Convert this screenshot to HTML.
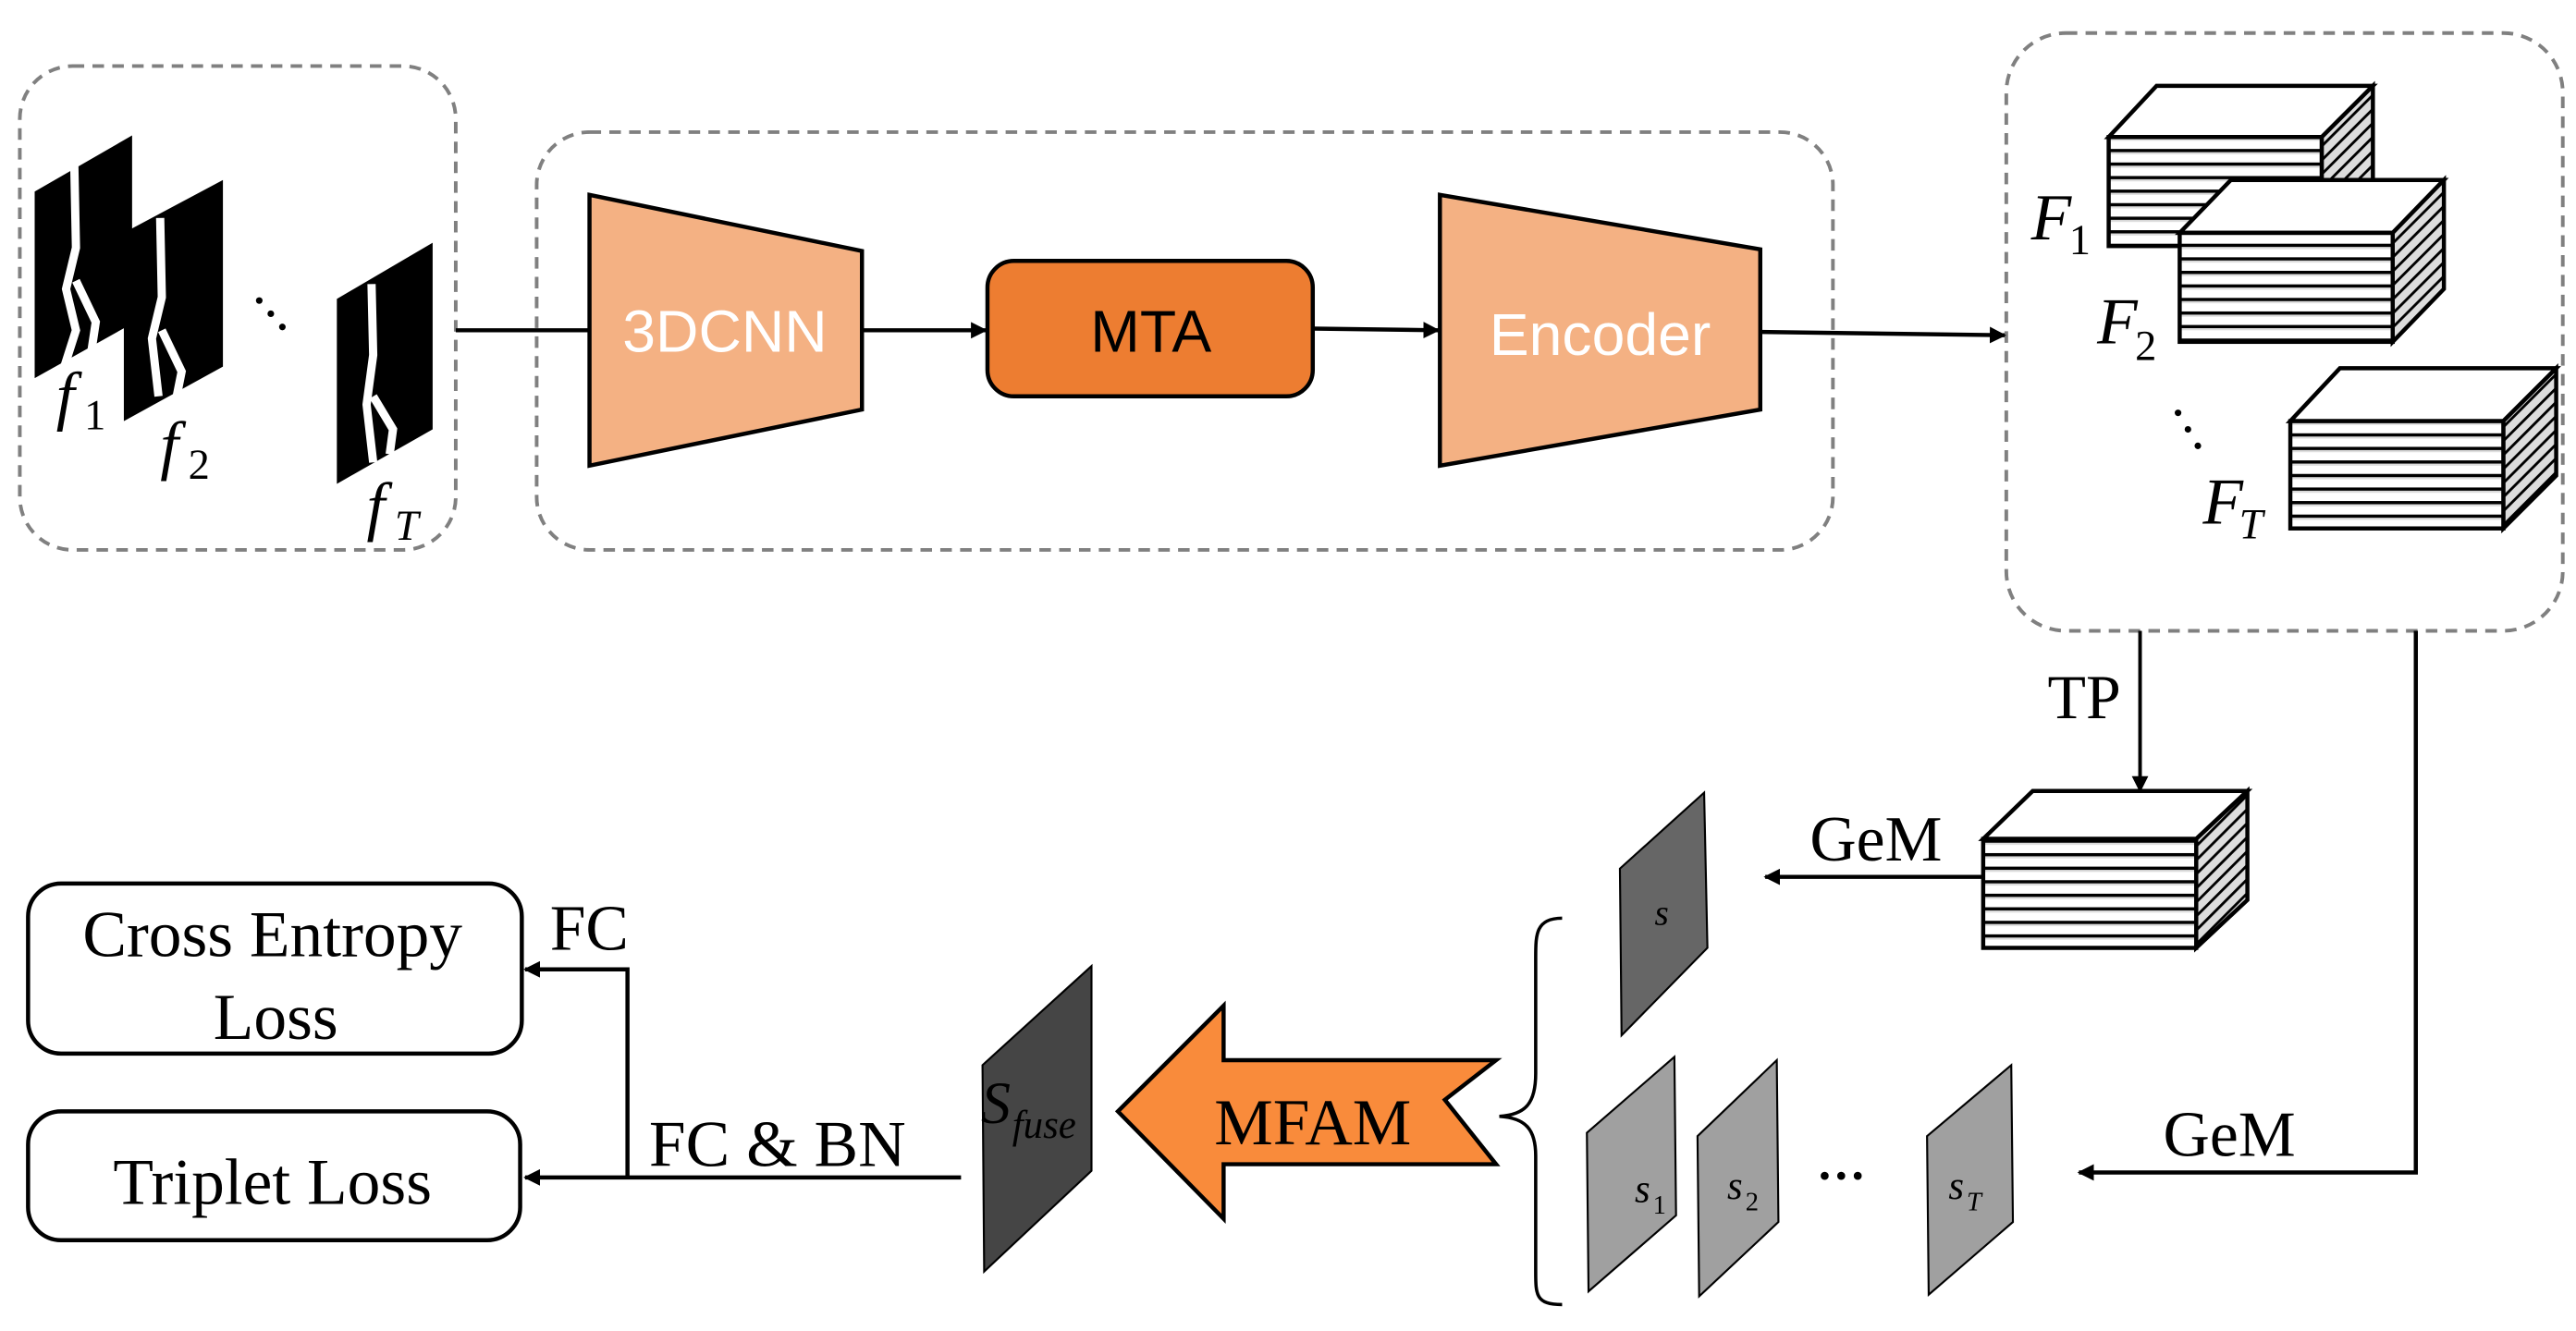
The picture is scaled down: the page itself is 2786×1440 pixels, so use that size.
<!DOCTYPE html>
<html><head><meta charset="utf-8"><style>
html,body{margin:0;padding:0;background:#fff;}
svg{display:block;}
.serif{font-family:"Liberation Serif",serif;}
.sans{font-family:"Liberation Sans",sans-serif;}
</style></head><body>
<svg width="2786" height="1440" viewBox="0 0 1560 806" preserveAspectRatio="none" xmlns="http://www.w3.org/2000/svg">
<defs>
<pattern id="hs" patternUnits="userSpaceOnUse" width="10" height="8.2">
<rect width="10" height="8.2" fill="#fff"/><rect y="0" width="10" height="2" fill="#000"/><rect y="2" width="10" height="1.2" fill="#ddd"/>
</pattern>
<pattern id="ds" patternUnits="userSpaceOnUse" width="6" height="6" patternTransform="rotate(-45)">
<rect width="6" height="6" fill="#ddd"/><rect width="6" height="1.6" fill="#000"/>
</pattern>
<marker id="ar" markerWidth="10" markerHeight="10" refX="9" refY="5" orient="auto" markerUnits="userSpaceOnUse">
<path d="M0,0 L10,5 L0,10 z" fill="#000"/>
</marker>
</defs>

<rect x="12" y="40" width="264" height="293" rx="32" fill="none" stroke="#808080" stroke-width="2.2" stroke-dasharray="7,5"/>
<rect x="325" y="80" width="785" height="253" rx="32" fill="none" stroke="#808080" stroke-width="2.2" stroke-dasharray="7,5"/>
<rect x="1215" y="20" width="337" height="362" rx="36" fill="none" stroke="#808080" stroke-width="2.2" stroke-dasharray="7,5"/>

<polygon points="21,116 80,82 80,196 21,229" fill="#000"/>
<path d="M45,100 L46,150 L40,175 L46,200 L38,225 M46,170 L58,195 L55,215" stroke="#fff" stroke-width="5" fill="none"/>
<polygon points="75,141 135,109 135,222 75,255" fill="#000"/>
<path d="M97,132 L98,180 L92,205 L96,240 M98,200 L110,225 L106,245" stroke="#fff" stroke-width="5" fill="none"/>
<polygon points="204,181 262,147 262,260 204,293" fill="#000"/>
<path d="M225,172 L226,215 L222,245 L226,280 M226,240 L238,260 L236,275" stroke="#fff" stroke-width="5" fill="none"/>
<circle cx="157" cy="182" r="2" fill="#000"/><circle cx="164" cy="190" r="2" fill="#000"/><circle cx="171" cy="198" r="2" fill="#000"/>
<text x="34" y="253" class="serif" font-size="40" font-style="italic">f</text><text x="51" y="260" class="serif" font-size="26">1</text>
<text x="97" y="283" class="serif" font-size="40" font-style="italic">f</text><text x="114" y="290" class="serif" font-size="26">2</text>
<text x="222" y="320" class="serif" font-size="40" font-style="italic">f</text><text x="239" y="327" class="serif" font-size="26" font-style="italic">T</text>

<polygon points="357,118 522,152 522,248 357,282" fill="#f4b183" stroke="#000" stroke-width="2.5"/>
<text x="439" y="213" class="sans" font-size="36" fill="#fff" text-anchor="middle">3DCNN</text>
<rect x="598" y="158" width="197" height="82" rx="16" fill="#ed7d31" stroke="#000" stroke-width="2.5"/>
<text x="697" y="213" class="sans" font-size="36" fill="#000" text-anchor="middle">MTA</text>
<polygon points="872,118 1066,151 1066,248 872,282" fill="#f4b183" stroke="#000" stroke-width="2.5"/>
<text x="969" y="215" class="sans" font-size="36" fill="#fff" text-anchor="middle">Encoder</text>

<line x1="276" y1="200" x2="357" y2="200" stroke="#000" stroke-width="2.5"/>
<line x1="522" y1="200" x2="597" y2="200" stroke="#000" stroke-width="2.5" marker-end="url(#ar)"/>
<line x1="795" y1="199" x2="871" y2="200" stroke="#000" stroke-width="2.5" marker-end="url(#ar)"/>
<line x1="1066" y1="201" x2="1214" y2="203" stroke="#000" stroke-width="2.5" marker-end="url(#ar)"/>

<g stroke="#000" stroke-width="2.5" stroke-linejoin="miter">
<polygon points="1277,83 1306,52 1437,52 1406,83" fill="#fff"/>
<polygon points="1406,83 1437,52 1437,118 1406,149" fill="url(#ds)"/>
<rect x="1277" y="83" width="129" height="66" fill="url(#hs)"/>
<polygon points="1320,141 1351,109 1480,109 1449,141" fill="#fff"/>
<polygon points="1449,141 1480,109 1480,175 1449,207" fill="url(#ds)"/>
<rect x="1320" y="141" width="129" height="66" fill="url(#hs)"/>
<polygon points="1387,255 1417,223 1548,223 1516,255" fill="#fff"/>
<polygon points="1516,255 1548,223 1548,288 1516,320" fill="url(#ds)"/>
<rect x="1387" y="255" width="129" height="65" fill="url(#hs)"/>
<polygon points="1201,508 1231,479 1361,479 1330,508" fill="#fff"/>
<polygon points="1330,508 1361,479 1361,545 1330,574" fill="url(#ds)"/>
<rect x="1201" y="508" width="129" height="66" fill="url(#hs)"/>
</g>
<text x="1230" y="145" class="serif" font-size="40" font-style="italic">F</text><text x="1253" y="154" class="serif" font-size="26">1</text>
<text x="1270" y="208" class="serif" font-size="40" font-style="italic">F</text><text x="1293" y="218" class="serif" font-size="26">2</text>
<text x="1334" y="317" class="serif" font-size="40" font-style="italic">F</text><text x="1356" y="326" class="serif" font-size="26" font-style="italic">T</text>
<circle cx="1319" cy="250" r="2" fill="#000"/><circle cx="1325" cy="260" r="2" fill="#000"/><circle cx="1331" cy="270" r="2" fill="#000"/>

<line x1="1296" y1="382" x2="1296" y2="479" stroke="#000" stroke-width="2.2" marker-end="url(#ar)"/>
<text x="1240" y="435" class="serif" font-size="38">TP</text>
<polyline points="1463,382 1463,710 1259,710" fill="none" stroke="#000" stroke-width="2.5" marker-end="url(#ar)"/>
<text x="1310" y="700" class="serif" font-size="39">GeM</text>
<line x1="1201" y1="531" x2="1069" y2="531" stroke="#000" stroke-width="2.5" marker-end="url(#ar)"/>
<text x="1096" y="521" class="serif" font-size="39">GeM</text>

<g stroke="#000" stroke-width="1.2">
<polygon points="981,526 1032,480 1034,574 982,627" fill="#666"/>
<polygon points="961,686 1014,640 1015,736 962,782" fill="#a0a0a0"/>
<polygon points="1028,688 1076,642 1077,740 1029,785" fill="#a0a0a0"/>
<polygon points="1167,688 1218,645 1219,740 1168,784" fill="#a0a0a0"/>
</g>
<text x="1002" y="560" class="serif" font-size="22" font-style="italic">s</text>
<text x="990" y="728" class="serif" font-size="24" font-style="italic">s</text><text x="1001" y="735" class="serif" font-size="16">1</text>
<text x="1046" y="726" class="serif" font-size="24" font-style="italic">s</text><text x="1057" y="733" class="serif" font-size="16">2</text>
<text x="1180" y="726" class="serif" font-size="24" font-style="italic">s</text><text x="1191" y="733" class="serif" font-size="16" font-style="italic">T</text>
<text x="1100" y="722" class="serif" font-size="30" font-weight="bold">···</text>

<path d="M946,556 C930,556 930,566 930,580 L930,650 C930,668 924,675 908,676 C924,677 930,684 930,700 L930,770 C930,784 930,790 946,790" fill="none" stroke="#000" stroke-width="2"/>

<polygon points="677,673 741,609 741,642 906,642 875,666 906,705 741,705 741,738" fill="#f98b3b" stroke="#000" stroke-width="2.5"/>
<text x="795" y="693" class="serif" font-size="40" text-anchor="middle">MFAM</text>

<polygon points="595,645 661,585 661,709 596,770" fill="#454545" stroke="#000" stroke-width="1.2"/>
<text x="594" y="680" class="serif" font-size="36" font-style="italic" fill="#000">S</text>
<text x="613" y="689" class="serif" font-size="24" font-style="italic" fill="#000">fuse</text>

<line x1="582" y1="713" x2="318" y2="713" stroke="#000" stroke-width="2.5" marker-end="url(#ar)"/>
<polyline points="380,713 380,587 318,587" fill="none" stroke="#000" stroke-width="2.5" marker-end="url(#ar)"/>
<text x="333" y="575" class="serif" font-size="39">FC</text>
<text x="393" y="706" class="serif" font-size="40">FC &amp; BN</text>

<rect x="17" y="535" width="299" height="103" rx="20" fill="#fff" stroke="#000" stroke-width="2.5"/>
<text x="165" y="579" class="serif" font-size="40" text-anchor="middle">Cross Entropy</text>
<text x="167" y="629" class="serif" font-size="40" text-anchor="middle">Loss</text>
<rect x="17" y="673" width="298" height="78" rx="20" fill="#fff" stroke="#000" stroke-width="2.5"/>
<text x="165" y="729" class="serif" font-size="40" text-anchor="middle">Triplet Loss</text>
</svg>
</body></html>
